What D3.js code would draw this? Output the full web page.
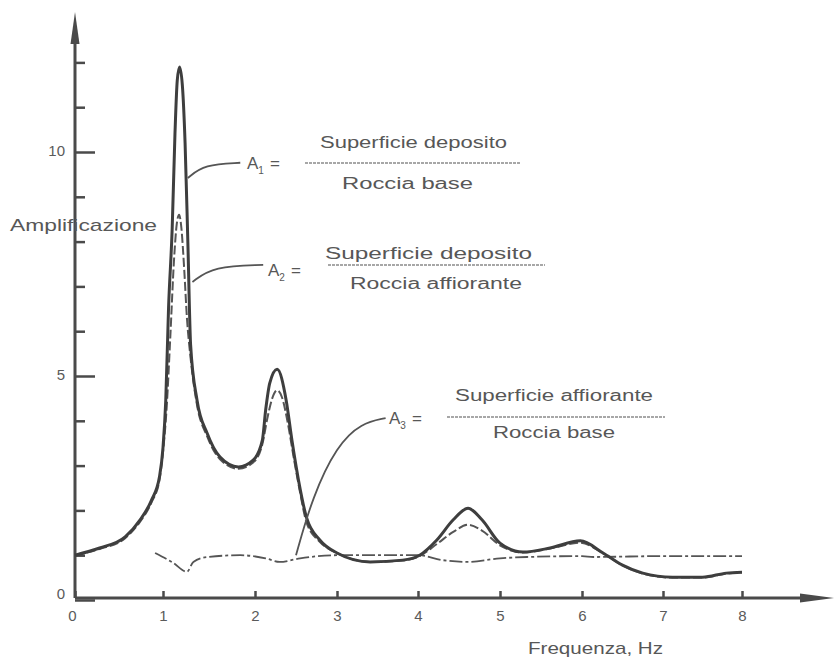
<!DOCTYPE html>
<html>
<head>
<meta charset="utf-8">
<script src="https://cdn.jsdelivr.net/npm/d3@7"></script>
<style>
  html, body { margin: 0; padding: 0; background: #fff; }
  svg { display: block; font-family: "Liberation Sans", Arial, sans-serif; }
  .tick text { fill: #5a5a5a; font-size: 15px; }
</style>
</head>
<body>
<div id="chart"></div>
<script>
// A1 = Superficie deposito / Roccia base (solid)
const freqA1 = [0, 0.28, 0.57, 0.74, 0.87, 0.96, 1.0, 1.03, 1.06, 1.10, 1.13, 1.155, 1.18, 1.21, 1.24, 1.27, 1.30, 1.37, 1.48, 1.62, 1.82, 1.98, 2.09, 2.13, 2.18, 2.27, 2.38, 2.45, 2.53, 2.63, 2.79, 3.0, 3.41, 3.81, 4.02, 4.23, 4.43, 4.61, 4.78, 5.0, 5.28, 5.61, 5.98, 6.26, 6.5, 6.75, 7.12, 7.5, 7.8, 8.0];
const ampA1 = [1.0, 1.16, 1.41, 1.79, 2.23, 2.75, 3.4, 4.46, 6.5, 8.3, 10.4, 11.6, 11.9, 11.5, 10.2, 8.0, 5.7, 4.46, 3.72, 3.19, 2.97, 3.12, 3.57, 4.24, 4.84, 5.15, 4.46, 3.57, 2.68, 1.83, 1.34, 1.05, 0.85, 0.89, 1.0, 1.34, 1.79, 2.05, 1.79, 1.27, 1.07, 1.16, 1.32, 1.05, 0.78, 0.6, 0.51, 0.51, 0.6, 0.62];

// A2 = Superficie deposito / Roccia affiorante (dashed)
const freqA2 = [0, 0.28, 0.57, 0.74, 0.87, 0.96, 1.0, 1.04, 1.08, 1.12, 1.15, 1.175, 1.20, 1.23, 1.26, 1.30, 1.37, 1.48, 1.62, 1.82, 1.98, 2.09, 2.15, 2.21, 2.27, 2.33, 2.40, 2.47, 2.55, 2.63, 2.79, 3.0, 3.41, 3.81, 4.02, 4.23, 4.43, 4.61, 4.78, 5.0, 5.28, 5.61, 5.98, 6.26, 6.5, 6.75, 7.12, 7.5, 7.8, 8.0];
const ampA2 = [1.0, 1.14, 1.38, 1.75, 2.18, 2.68, 3.3, 4.3, 5.9, 7.6, 8.4, 8.6, 8.3, 7.4, 6.3, 5.4, 4.35, 3.65, 3.14, 2.93, 3.07, 3.48, 4.05, 4.5, 4.68, 4.52, 3.95, 3.2, 2.4, 1.72, 1.3, 1.05, 0.85, 0.88, 0.98, 1.25, 1.52, 1.68, 1.55, 1.22, 1.06, 1.15, 1.28, 1.04, 0.77, 0.59, 0.5, 0.5, 0.59, 0.62];

// A3 = Superficie affiorante / Roccia base (dash-dot)
const freqA3 = [0.91, 1.11, 1.26, 1.33, 1.48, 1.84, 2.13, 2.30, 2.55, 3.0, 3.5, 4.0, 4.3, 4.6, 5.0, 5.33, 6.0, 6.14, 7.0, 8.0];
const ampA3 = [1.05, 0.83, 0.63, 0.85, 0.96, 1.0, 0.93, 0.85, 0.93, 1.0, 1.0, 1.0, 0.89, 0.85, 0.93, 0.96, 0.98, 0.96, 0.98, 0.98];

const xTicks = [0, 1, 2, 3, 4, 5, 6, 7, 8];
const yMajorTicks = [0, 5, 10];
const yMinorTicks = [1, 2, 3, 4, 6, 7, 8, 9, 11, 12];

const W = 835, H = 660;
const ink = "#4a4a4a", textInk = "#575757";

const svg = d3.select("#chart").append("svg")
  .attr("width", W).attr("height", H)
  .attr("viewBox", `0 0 ${W} ${H}`);

// the scanned figure has slightly uneven tick spacing
const x = d3.scaleLinear()
  .domain(xTicks)
  .range([75, 163, 255, 337, 418, 500, 582, 663, 742]);
const y = d3.scaleLinear().domain([0, 10]).range([600, 152]);

// axes
const yAxisMajor = svg.append("g").attr("transform", `translate(${x(0)},0)`)
  .call(d3.axisLeft(y).tickValues(yMajorTicks).tickSize(-20).tickPadding(10));
const yAxisMinor = svg.append("g").attr("transform", `translate(${x(0)},0)`)
  .call(d3.axisLeft(y).tickValues(yMinorTicks).tickSize(-10).tickFormat(""));
const xAxis = svg.append("g").attr("transform", `translate(0,${y(0) - 2})`)
  .call(d3.axisBottom(x).tickValues(xTicks).tickSize(-7).tickPadding(12));

[yAxisMajor, yAxisMinor, xAxis].forEach(g => {
  g.select(".domain").remove();
  g.selectAll(".tick line").attr("stroke", ink).attr("stroke-width", 2.5);
});
yAxisMajor.selectAll(".tick text").attr("dy", "0.2em");
yAxisMajor.selectAll(".tick").filter(d => d === 0).select("text").attr("dy", "-0.1em");
xAxis.selectAll(".tick").filter(d => d === 0).select("text").attr("dx", "-3");

// axis lines with arrow heads
svg.append("line")
  .attr("x1", x(0)).attr("y1", y(0) - 2).attr("x2", x(0)).attr("y2", 30)
  .attr("stroke", ink).attr("stroke-width", 3);
svg.append("path")
  .attr("d", `M${x(0)},12 L${x(0) - 4.5},44 L${x(0) + 4.5},44 Z`)
  .attr("fill", ink);
svg.append("line")
  .attr("x1", x(0)).attr("y1", y(0) - 2).attr("x2", 815).attr("y2", y(0) - 2)
  .attr("stroke", ink).attr("stroke-width", 3);
svg.append("path")
  .attr("d", `M834,${y(0) - 2} L800,${y(0) - 6.5} L800,${y(0) + 2.5} Z`)
  .attr("fill", ink);

// axis titles
svg.append("text")
  .attr("x", 10).attr("y", 231)
  .attr("font-size", 17).attr("fill", textInk)
  .attr("textLength", 147).attr("lengthAdjust", "spacingAndGlyphs")
  .text("Amplificazione");
svg.append("text")
  .attr("x", 528).attr("y", 654)
  .attr("font-size", 17).attr("fill", textInk)
  .attr("textLength", 135).attr("lengthAdjust", "spacingAndGlyphs")
  .text("Frequenza, Hz");

// curves
const line = d3.line()
  .x(d => x(d[0]))
  .y(d => y(d[1]))
  .curve(d3.curveMonotoneX);

svg.append("path")
  .datum(d3.zip(freqA2, ampA2))
  .attr("fill", "none").attr("stroke", "#555")
  .attr("stroke-width", 2).attr("stroke-dasharray", "9 3")
  .attr("d", line);

svg.append("path")
  .datum(d3.zip(freqA3, ampA3))
  .attr("fill", "none").attr("stroke", "#555")
  .attr("stroke-width", 1.8).attr("stroke-dasharray", "13 3 3 3")
  .attr("d", line);

svg.append("path")
  .datum(d3.zip(freqA1, ampA1))
  .attr("fill", "none").attr("stroke", "#3e3e3e")
  .attr("stroke-width", 3)
  .attr("d", line);

// leaders (in data units)
const leader = d3.line()
  .x(d => x(d[0]))
  .y(d => y(d[1]))
  .curve(d3.curveBasis);

const leaders = [
  [[1.27, 9.42], [1.45, 9.72], [1.84, 9.76]],
  [[1.32, 7.1], [1.55, 7.45], [2.1, 7.48]],
  [[2.5, 1.0], [2.7, 2.3], [3.0, 3.45], [3.3, 3.95], [3.6, 4.06]]
];
leaders.forEach(pts => {
  svg.append("path")
    .datum(pts)
    .attr("fill", "none").attr("stroke", "#555").attr("stroke-width", 1.8)
    .attr("d", leader);
});

// labels A_i = fraction
const labels = [
  { sub: "1", ax: 247, ay: 169, num: "Superficie deposito", den: "Roccia base",
    nx: 320, nw: 187, ny: 148, dx: 342, dw: 131, dy: 189, lx1: 305, lx2: 520, ly: 163 },
  { sub: "2", ax: 268, ay: 276, num: "Superficie deposito", den: "Roccia affiorante",
    nx: 325, nw: 207, ny: 259, dx: 350, dw: 172, dy: 289, lx1: 328, lx2: 545, ly: 265 },
  { sub: "3", ax: 389, ay: 424, num: "Superficie affiorante", den: "Roccia base",
    nx: 455, nw: 198, ny: 401, dx: 493, dw: 122, dy: 438, lx1: 447, lx2: 665, ly: 417 }
];

labels.forEach(l => {
  const t = svg.append("text")
    .attr("x", l.ax).attr("y", l.ay)
    .attr("font-size", 17).attr("fill", textInk);
  t.append("tspan").text("A");
  t.append("tspan").attr("font-size", 10).attr("dy", 5).text(l.sub);
  t.append("tspan").attr("dy", -5).attr("dx", 6).text("=");

  svg.append("text")
    .attr("x", l.nx).attr("y", l.ny)
    .attr("font-size", 16).attr("fill", textInk)
    .attr("textLength", l.nw).attr("lengthAdjust", "spacingAndGlyphs")
    .text(l.num);
  svg.append("line")
    .attr("x1", l.lx1).attr("x2", l.lx2).attr("y1", l.ly).attr("y2", l.ly)
    .attr("stroke", "#8a8a8a").attr("stroke-width", 1.3)
    .attr("stroke-dasharray", "3 1");
  svg.append("text")
    .attr("x", l.dx).attr("y", l.dy)
    .attr("font-size", 16).attr("fill", textInk)
    .attr("textLength", l.dw).attr("lengthAdjust", "spacingAndGlyphs")
    .text(l.den);
});
</script>
</body>
</html>
